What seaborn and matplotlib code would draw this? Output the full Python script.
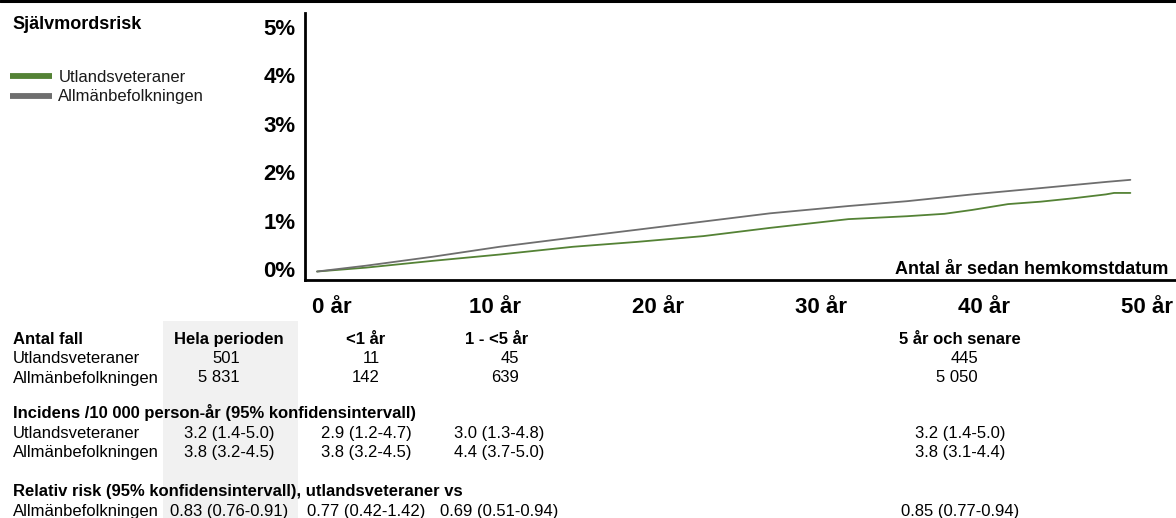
import matplotlib
matplotlib.use("Agg")
import matplotlib.pyplot as plt
import matplotlib.transforms as mtransforms
from matplotlib.lines import Line2D
from matplotlib.patches import Rectangle
import pandas as pd
import seaborn as sns

# Cumulative suicide risk (%) by years since return date
years_vet = [0, 3.0, 7.1, 11.2, 15.7, 19.6, 23.7, 27.8, 30.2, 32.6, 36.2, 38.5,
             40.2, 41.3, 42.4, 44.4, 46.4, 48.4, 48.9, 49.9]
risk_vet = [0, 0.08, 0.22, 0.35, 0.51, 0.61, 0.73, 0.90, 0.99, 1.08, 1.14, 1.19,
            1.27, 1.33, 1.39, 1.44, 1.51, 1.59, 1.62, 1.62]

years_gen = [0, 3.0, 7.1, 11.2, 15.7, 19.6, 23.7, 27.8, 32.6, 36.2, 40.2, 44.4,
             48.5, 49.9]
risk_gen = [0, 0.12, 0.305, 0.51, 0.70, 0.86, 1.03, 1.20, 1.35, 1.45, 1.59, 1.72,
            1.85, 1.89]

groups = ["Utlandsveteraner", "Allmänbefolkningen"]
colors = ["#548235", "#6e6e6e"]

x_ticks = [0, 10, 20, 30, 40, 50]
x_ticklabels = ["0 år", "10 år", "20 år", "30 år", "40 år", "50 år"]
y_ticks = [0, 1, 2, 3, 4, 5]
y_ticklabels = ["0%", "1%", "2%", "3%", "4%", "5%"]

# Summary table
periods = ["Hela perioden", "<1 år", "1 - <5 år", "5 år och senare"]
cases_vet = ["501", "11", "45", "445"]
cases_gen = ["5 831", "142", "639", "5 050"]
inc_vet = ["3.2 (1.4-5.0)", "2.9 (1.2-4.7)", "3.0 (1.3-4.8)", "3.2 (1.4-5.0)"]
inc_gen = ["3.8 (3.2-4.5)", "3.8 (3.2-4.5)", "4.4 (3.7-5.0)", "3.8 (3.1-4.4)"]
rr_gen = ["0.83 (0.76-0.91)", "0.77 (0.42-1.42)", "0.69 (0.51-0.94)", "0.85 (0.77-0.94)"]

sns.set_theme(style="white")
plt.rcParams["font.family"] = ["Liberation Sans", "DejaVu Sans"]

W, H = 1176, 518
fig = plt.figure(figsize=(W / 100, H / 100), dpi=100)


def fx(px):
    return px / W


def fy(py):
    return 1 - py / H


df = pd.concat([
    pd.DataFrame({"år": years_vet, "risk": risk_vet, "grupp": groups[0]}),
    pd.DataFrame({"år": years_gen, "risk": risk_gen, "grupp": groups[1]}),
], ignore_index=True)

ax = fig.add_axes([fx(305), fy(280), fx(1176) - fx(305), fy(13) - fy(280)])
sns.lineplot(data=df, x="år", y="risk", hue="grupp", hue_order=groups,
             palette=dict(zip(groups, colors)), linewidth=1.3, ax=ax,
             estimator=None, sort=False)

ax.set_xlim(-0.74, 52.7)
ax.set_ylim(-0.175, 5.33)
for side in ["top", "right"]:
    ax.spines[side].set_visible(False)
for side in ["left", "bottom"]:
    ax.spines[side].set_color("black")
    ax.spines[side].set_linewidth(2.0)

ax.set_xticks(x_ticks)
ax.set_xticklabels(x_ticklabels, fontsize=16, fontweight="bold")
ax.set_yticks(y_ticks)
ax.set_yticklabels(y_ticklabels, fontsize=16, fontweight="bold")
ax.tick_params(axis="x", length=0, pad=12, colors="black")
ax.tick_params(axis="y", length=0, pad=7, colors="black")
xshift = mtransforms.ScaledTranslation(15 / 100, 0, fig.dpi_scale_trans)
for lab in ax.get_xticklabels():
    lab.set_transform(lab.get_transform() + xshift)
yshift = mtransforms.ScaledTranslation(0, 2.5 / 100, fig.dpi_scale_trans)
for lab in ax.get_yticklabels():
    lab.set_transform(lab.get_transform() + yshift)

ax.set_xlabel("Antal år sedan hemkomstdatum", fontsize=13, fontweight="bold",
              color="black", ha="right", va="center")
ax.xaxis.set_label_coords((1168 - 305) / 871, (280 - 269) / 267)
ax.set_ylabel("")

sns.move_legend(ax, loc="upper left", bbox_to_anchor=(fx(10), fy(69.5)),
                bbox_transform=fig.transFigure, frameon=False, title=None,
                fontsize=12, handlelength=2.5, handletextpad=0.4,
                labelspacing=0.3, borderpad=0, borderaxespad=0)
leg = ax.get_legend()
for line in leg.get_lines():
    line.set_linewidth(4.2)
    line.set_solid_capstyle("butt")
for t in leg.get_texts():
    t.set_color("#1a1a1a")

# Top rule and title
fig.add_artist(Line2D([0, 1], [fy(1.2), fy(1.2)], transform=fig.transFigure,
                      color="black", linewidth=2.2))
fig.text(fx(12), fy(29.5), "Självmordsrisk", fontsize=13, fontweight="bold",
         va="baseline", ha="left", color="black")

# Shaded column for the whole period
fig.add_artist(Rectangle((fx(163), 0), fx(298) - fx(163), fy(321),
                         transform=fig.transFigure, facecolor="#f1f1f1",
                         edgecolor="none", zorder=0))

col_center = [229, 366, 499, 960]
head_center = [229, 366, 497, 960]
col_right = [240, 380, 519, 978]
fs = 12


def txt(x, y, s, bold=False, ha="left"):
    fig.text(fx(x), fy(y), s, fontsize=fs, fontweight="bold" if bold else "normal",
             ha=ha, va="baseline", color="black", zorder=3)


rows = [344, 363, 382.5, 418, 438, 457.5, 496, 516]

txt(13, rows[0], "Antal fall", bold=True)
for cx, p in zip(head_center, periods):
    txt(cx, rows[0], p, bold=True, ha="center")
txt(13, rows[1], groups[0])
txt(13, rows[2], groups[1])
for rx, a, b in zip(col_right, cases_vet, cases_gen):
    txt(rx, rows[1], a, ha="right")
    txt(rx, rows[2], b, ha="right")

txt(13, rows[3], "Incidens /10 000 person-år (95% konfidensintervall)", bold=True)
txt(13, rows[4], groups[0])
txt(13, rows[5], groups[1])
for cx, a, b in zip(col_center, inc_vet, inc_gen):
    txt(cx, rows[4], a, ha="center")
    txt(cx, rows[5], b, ha="center")

txt(13, rows[6], "Relativ risk (95% konfidensintervall), utlandsveteraner vs", bold=True)
txt(13, rows[7], groups[1])
for cx, r in zip(col_center, rr_gen):
    txt(cx, rows[7], r, ha="center")

fig.savefig("out.png", dpi=100, facecolor="white")
